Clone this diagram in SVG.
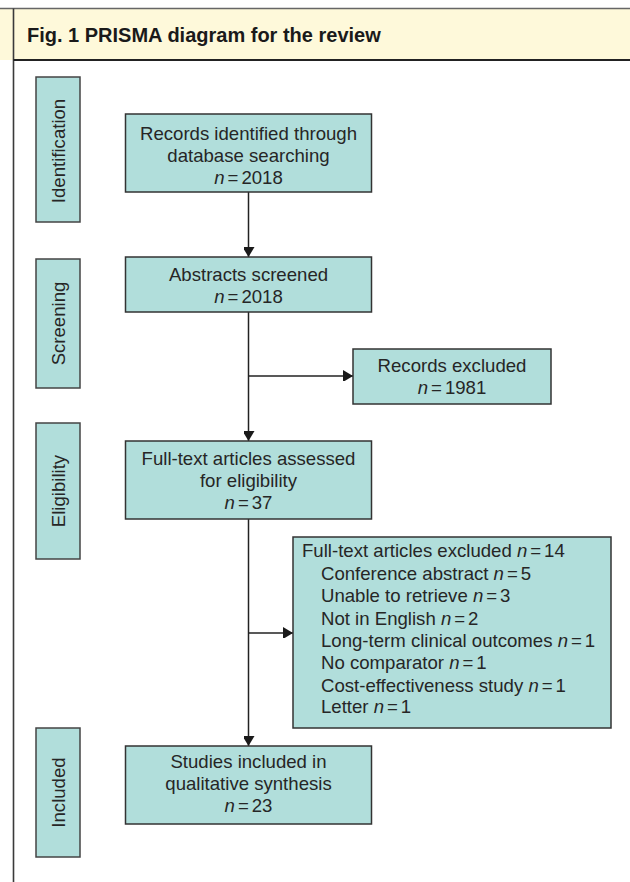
<svg xmlns="http://www.w3.org/2000/svg" width="630" height="882" viewBox="0 0 630 882">
<style>
.frame{fill:none;stroke:#3a3a3a;stroke-width:1.6}
.box{fill:#b1dedb;stroke:#333;stroke-width:1.5}
.side{fill:#b1dedb;stroke:#444;stroke-width:1.5}
text{font-family:"Liberation Sans",Arial,Helvetica,sans-serif;font-size:18.6px;fill:#262626}
.c{text-anchor:middle}
.title{font-weight:bold;font-size:20px;fill:#1a1a1a}
.n{font-style:italic}
.eq{word-spacing:-2.2px}
.conn{fill:none;stroke:#222;stroke-width:1.5}
</style>
<defs>
<marker id="ah" markerUnits="userSpaceOnUse" markerWidth="13" markerHeight="11" refX="10" refY="6" orient="auto">
<path d="M0,0 L10,6 L0,12 Z" fill="#1a1a1a"/>
</marker>
</defs>
<g id="frame">
<rect x="0" y="8" width="640" height="52" fill="#fef9da"/>
<path d="M0,8.5 H640" stroke="#666" stroke-width="1.5" fill="none"/>
<path d="M13.5,8.5 V900" class="frame"/>
<path d="M13.5,60 H640" stroke="#222" stroke-width="2" fill="none"/>
<text x="27" y="42" class="title">Fig. 1 PRISMA diagram for the review</text>
</g>
<g id="stage-identification">
<rect x="36" y="77" width="44" height="145" class="side"/>
<text class="c" transform="translate(64.5,151) rotate(-90)">Identification</text>
</g>
<g id="stage-screening">
<rect x="36" y="259" width="44" height="129" class="side"/>
<text class="c" transform="translate(64.5,323.5) rotate(-90)">Screening</text>
</g>
<g id="stage-eligibility">
<rect x="36" y="423" width="44" height="136" class="side"/>
<text class="c" transform="translate(64.5,491) rotate(-90)">Eligibility</text>
</g>
<g id="stage-included">
<rect x="36" y="728" width="44" height="129" class="side"/>
<text class="c" transform="translate(64.5,792.5) rotate(-90)">Included</text>
</g>
<g id="connectors">
<path d="M248.5,192 V257" class="conn" marker-end="url(#ah)"/>
<path d="M248.5,312 V441" class="conn" marker-end="url(#ah)"/>
<path d="M248.5,376 H353" class="conn" marker-end="url(#ah)"/>
<path d="M248.5,519 V746" class="conn" marker-end="url(#ah)"/>
<path d="M248.5,633 H293" class="conn" marker-end="url(#ah)"/>
</g>
<g id="records-identified">
<rect x="125.5" y="114" width="246" height="78" class="box"/>
<text x="248.5" y="140" class="c">Records identified through</text>
<text x="248.5" y="162" class="c">database searching</text>
<text x="248.5" y="184" class="c"><tspan class="n">n</tspan><tspan class="eq"> = 2018</tspan></text>
</g>
<g id="abstracts-screened">
<rect x="125.5" y="257" width="246" height="55" class="box"/>
<text x="248.5" y="281" class="c">Abstracts screened</text>
<text x="248.5" y="303" class="c"><tspan class="n">n</tspan><tspan class="eq"> = 2018</tspan></text>
</g>
<g id="records-excluded">
<rect x="353" y="349" width="198" height="55" class="box"/>
<text x="452" y="372" class="c">Records excluded</text>
<text x="452" y="394" class="c"><tspan class="n">n</tspan><tspan class="eq"> = 1981</tspan></text>
</g>
<g id="fulltext-assessed">
<rect x="125.5" y="441" width="246" height="78" class="box"/>
<text x="248.5" y="465" class="c">Full-text articles assessed</text>
<text x="248.5" y="487" class="c">for eligibility</text>
<text x="248.5" y="509" class="c"><tspan class="n">n</tspan><tspan class="eq"> = 37</tspan></text>
</g>
<g id="fulltext-excluded">
<rect x="293" y="537" width="318" height="191" class="box"/>
<text x="302" y="557">Full-text articles excluded <tspan class="n">n</tspan><tspan class="eq"> = 14</tspan></text>
<text x="321" y="580">Conference abstract <tspan class="n">n</tspan><tspan class="eq"> = 5</tspan></text>
<text x="321" y="602">Unable to retrieve <tspan class="n">n</tspan><tspan class="eq"> = 3</tspan></text>
<text x="321" y="625">Not in English <tspan class="n">n</tspan><tspan class="eq"> = 2</tspan></text>
<text x="321" y="647">Long-term clinical outcomes <tspan class="n">n</tspan><tspan class="eq"> = 1</tspan></text>
<text x="321" y="669">No comparator <tspan class="n">n</tspan><tspan class="eq"> = 1</tspan></text>
<text x="321" y="692">Cost-effectiveness study <tspan class="n">n</tspan><tspan class="eq"> = 1</tspan></text>
<text x="321" y="713">Letter <tspan class="n">n</tspan><tspan class="eq"> = 1</tspan></text>
</g>
<g id="studies-included">
<rect x="125.5" y="746" width="246" height="78" class="box"/>
<text x="248.5" y="768" class="c">Studies included in</text>
<text x="248.5" y="790" class="c">qualitative synthesis</text>
<text x="248.5" y="812" class="c"><tspan class="n">n</tspan><tspan class="eq"> = 23</tspan></text>
</g>
</svg>
